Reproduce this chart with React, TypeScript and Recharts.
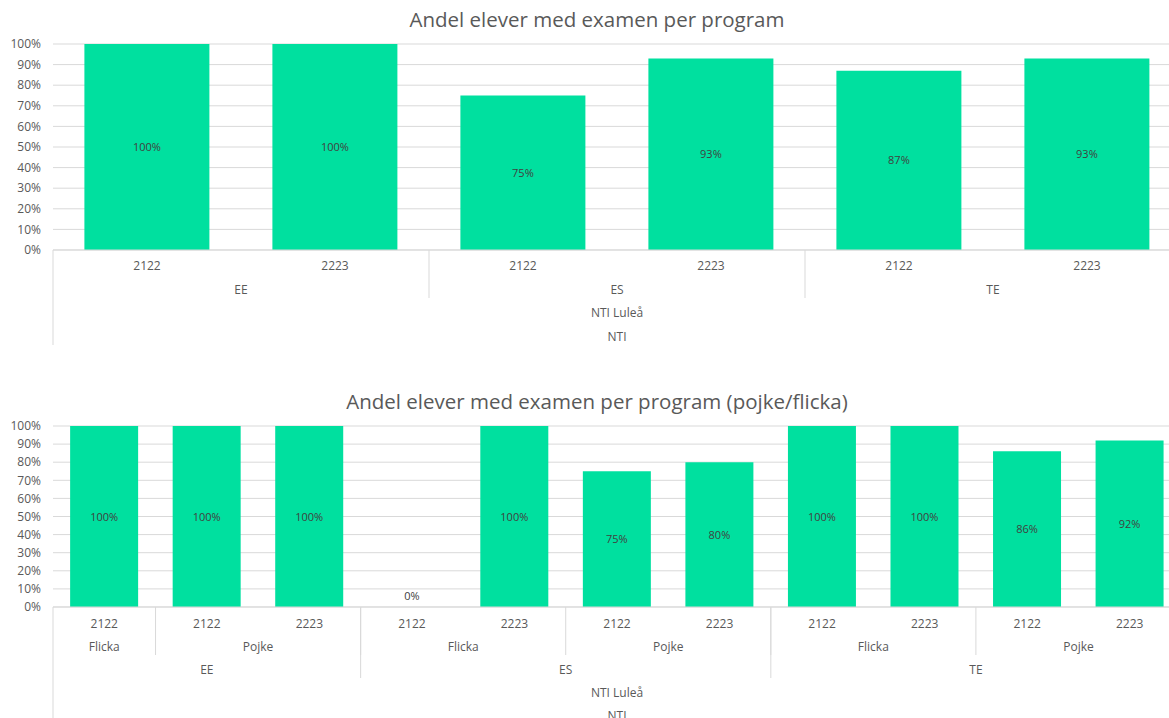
import React from 'react';
import { BarChart, Bar, XAxis, YAxis, CartesianGrid, LabelList } from 'recharts';

// top chart: per program and school year
const years1 = ['2122', '2223', '2122', '2223', '2122', '2223'];
const programs1 = ['EE', 'EE', 'ES', 'ES', 'TE', 'TE'];
const values1 = [1, 1, 0.75, 0.93, 0.87, 0.93];

// bottom chart: per program, gender and school year
const years2 = ['2122', '2122', '2223', '2122', '2223', '2122', '2223', '2122', '2223', '2122', '2223'];
const genders2 = ['Flicka', 'Pojke', 'Pojke', 'Flicka', 'Flicka', 'Pojke', 'Pojke', 'Flicka', 'Flicka', 'Pojke', 'Pojke'];
const programs2 = ['EE', 'EE', 'EE', 'ES', 'ES', 'ES', 'ES', 'TE', 'TE', 'TE', 'TE'];
const values2 = [1, 1, 1, 0, 1, 0.75, 0.8, 1, 1, 0.86, 0.92];

const school = 'NTI Luleå';
const org = 'NTI';
const yTicks = [0, 0.1, 0.2, 0.3, 0.4, 0.5, 0.6, 0.7, 0.8, 0.9, 1];

const PAGE_W = 1169;
const W = 1181; // plot runs a bit past the right edge, like the original
const Y_W = 53;
const FONT = '"Open Sans", sans-serif';
const GREEN = '#00E09F';
const TXT = '#595959';
const LINE = '#d9d9d9';

const pct = (v: number) => `${Math.round(v * 100)}%`;

function runStart(arr: string[], i: number) {
  return i === 0 || arr[i] !== arr[i - 1];
}
function runLen(arr: string[], i: number) {
  let n = 1;
  while (i + n < arr.length && arr[i + n] === arr[i]) n++;
  return n;
}

// levels: inner to outer, each with label y offset and separator length
type Level = { arr: string[]; dy: number; sep: number };

function makeTick(levels: Level[], band: number, fullH: number, values: number[]) {
  return (props: any) => {
    const { x, y, index } = props;
    const i = index as number;
    const left = x - band / 2;
    const out: React.ReactNode[] = [];
    // zero-height bars get their label just above the axis
    if (values[i] === 0) {
      out.push(
        <text key="zero" x={x} y={y - 7} textAnchor="middle" fill="#404040" fontSize={11} fontFamily={FONT}>
          {pct(values[i])}
        </text>
      );
    }
    levels.forEach((lv, li) => {
      if (li === 0) {
        out.push(
          <text key={`l${li}`} x={x} y={y + lv.dy} textAnchor="middle" fill={TXT} fontSize={12} fontFamily={FONT}>
            {lv.arr[i]}
          </text>
        );
        return;
      }
      if (!runStart(lv.arr, i)) return;
      const n = runLen(lv.arr, i);
      out.push(
        <text key={`l${li}`} x={left + (n * band) / 2} y={y + lv.dy} textAnchor="middle" fill={TXT} fontSize={12} fontFamily={FONT}>
          {lv.arr[i]}
        </text>
      );
      if (i > 0 && lv.sep > 0) {
        out.push(<line key={`s${li}`} x1={left} x2={left} y1={y} y2={y + lv.sep} stroke={LINE} />);
      }
    });
    if (i === 0) {
      out.push(<line key="edge" x1={left} x2={left} y1={y} y2={y + fullH} stroke={LINE} />);
    }
    return <g>{out}</g>;
  };
}

const barLabel = (props: any) => {
  const { x, y, width, height, value } = props;
  if (!value) return null;
  return (
    <text x={x + width / 2} y={y + height / 2 + 4} textAnchor="middle" fill="#404040" fontSize={11} fontFamily={FONT}>
      {pct(value)}
    </text>
  );
};

function Title({ top, text }: { top: number; text: string }) {
  return (
    <div style={{ position: 'absolute', top, left: 0, width: 1194, textAlign: 'center', fontFamily: FONT, fontSize: 20.5, color: TXT, whiteSpace: 'nowrap' }}>
      {text}
    </div>
  );
}

export default function App() {
  const data1 = years1.map((y, i) => ({ key: i, year: y, program: programs1[i], value: values1[i] }));
  const data2 = years2.map((y, i) => ({ key: i, year: y, gender: genders2[i], program: programs2[i], value: values2[i] }));

  const band1 = (W - Y_W) / data1.length;
  const band2 = (W - Y_W) / data2.length;

  const tick1 = makeTick(
    [
      { arr: years1, dy: 20, sep: 0 },
      { arr: programs1, dy: 44, sep: 48 },
      { arr: years1.map(() => school), dy: 67, sep: 0 },
      { arr: years1.map(() => org), dy: 91, sep: 0 },
    ],
    band1,
    95,
    values1
  );
  const tick2 = makeTick(
    [
      { arr: years2, dy: 21, sep: 0 },
      { arr: genders2, dy: 44, sep: 48 },
      { arr: programs2, dy: 67, sep: 71 },
      { arr: years2.map(() => school), dy: 90, sep: 0 },
      { arr: years2.map(() => org), dy: 113, sep: 0 },
    ],
    band2,
    120,
    values2
  );

  return (
    <div style={{ position: 'absolute', left: 0, top: 0, width: PAGE_W, height: 718, background: '#fff', overflow: 'hidden' }}>
      <Title top={5} text="Andel elever med examen per program" />
      <div style={{ position: 'absolute', left: 0, top: 0 }}>
        <BarChart width={W} height={350} data={data1} margin={{ top: 44, right: 0, bottom: 0, left: 0 }} barCategoryGap="16.7%">
          <CartesianGrid vertical={false} stroke={LINE} />
          <XAxis dataKey="key" height={100} tick={tick1} tickLine={false} tickSize={0} tickMargin={0} axisLine={{ stroke: LINE }} interval={0} />
          <YAxis width={Y_W} domain={[0, 1]} ticks={yTicks} interval={0} tickFormatter={pct} tickLine={false} axisLine={false} tickSize={0} tickMargin={12}
            tick={{ fill: TXT, fontSize: 12, fontFamily: FONT }} />
          <Bar dataKey="value" fill={GREEN} isAnimationActive={false}>
            <LabelList dataKey="value" content={barLabel} />
          </Bar>
        </BarChart>
      </div>
      <Title top={387} text="Andel elever med examen per program (pojke/flicka)" />
      <div style={{ position: 'absolute', left: 0, top: 380 }}>
        <BarChart width={W} height={338} data={data2} margin={{ top: 46, right: 0, bottom: 0, left: 0 }} barCategoryGap="16.7%">
          <CartesianGrid vertical={false} stroke={LINE} />
          <XAxis dataKey="key" height={111} tick={tick2} tickLine={false} tickSize={0} tickMargin={0} axisLine={{ stroke: LINE }} interval={0} />
          <YAxis width={Y_W} domain={[0, 1]} ticks={yTicks} interval={0} tickFormatter={pct} tickLine={false} axisLine={false} tickSize={0} tickMargin={12}
            tick={{ fill: TXT, fontSize: 12, fontFamily: FONT }} />
          <Bar dataKey="value" fill={GREEN} isAnimationActive={false}>
            <LabelList dataKey="value" content={barLabel} />
          </Bar>
        </BarChart>
      </div>
    </div>
  );
}
